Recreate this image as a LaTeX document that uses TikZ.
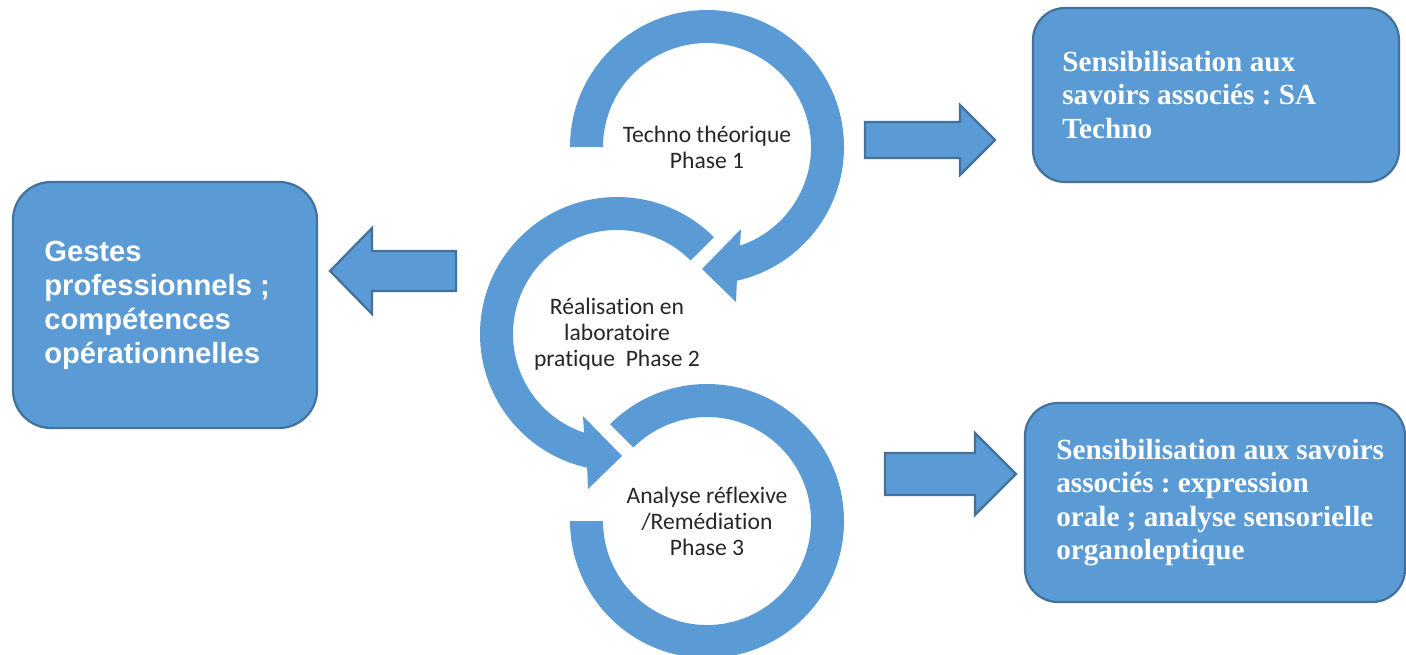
\documentclass[tikz,border=0pt]{standalone}
\usepackage{fontspec}
\setmainfont{Carlito}[RawFeature={-liga;-clig;-calt;-dlig}]
\newfontfamily\arialfont{Liberation Sans}
\newfontfamily\timesfont{Liberation Serif}
\usepackage{tikz}
\usetikzlibrary{positioning}
\frenchspacing
\definecolor{ringblue}{HTML}{5B9BD5}
\definecolor{edgeblue}{HTML}{41719C}
\tikzstyle{PhaseText}=[align=center, text=black!85, inner sep=0pt, font=\fontsize{11.8}{13}\selectfont]
\tikzstyle{Ring}=[fill=ringblue, draw=none]
\tikzstyle{BlockArrow}=[fill=ringblue, draw=edgeblue, line width=1.1pt]
\tikzstyle{InfoBox}=[rectangle, fill=ringblue, draw=edgeblue, line width=1.1pt]
\tikzstyle{SerifText}=[align=left, text=white, inner sep=0pt, font=\timesfont\bfseries\fontsize{14.6}{16.8}\selectfont]
\tikzstyle{SansText}=[align=left, text=white, inner sep=0pt, font=\arialfont\bfseries\fontsize{14.6}{17}\selectfont]

\begin{document}
\begin{tikzpicture}[x=0.5pt, y=0.5pt]
      \useasboundingbox (0,0) rectangle (1406,-654);
      \clip (0,0) rectangle (1406,-654);
      \node[PhaseText] (p1) at (707,-147) {Techno théorique\\Phase 1};
      \node[PhaseText] (p2) at (617,-334) {Réalisation en\\laboratoire\\pratique~~Phase 2};
      \node[PhaseText] (p3) at (707,-521) {Analyse réflexive\\/Remédiation\\Phase 3};
      \begin{scope}[shift={(p1.center)}]
        \fill[Ring] (180:137) arc[start angle=180, end angle=-77.4, radius=137]
          -- (29,-155) -- (-5,-122) -- (34,-82) -- (-71.5:104)
          arc[start angle=-71.5, end angle=180, radius=104] -- cycle;
      \end{scope}
      \begin{scope}[shift={(p2.center)}, xscale=-1]
        \fill[Ring] (135:137) arc[start angle=135, end angle=-77.4, radius=137]
          -- (29,-155) -- (-5,-122) -- (34,-82) -- (-71.5:104)
          arc[start angle=-71.5, end angle=135, radius=104] -- cycle;
      \end{scope}
      \begin{scope}[shift={(p3.center)}]
        \fill[Ring] (135:137) arc[start angle=135, end angle=-180, radius=137]
          -- (-180:104) arc[start angle=-180, end angle=135, radius=104] -- cycle;
      \end{scope}
      \node[InfoBox, rounded corners=16pt, minimum width=183pt, minimum height=87pt] (sa) at (1216,-95) {};
      \node[SerifText, anchor=west] (saText) at ([xshift=15pt]sa.west) {Sensibilisation aux\\savoirs associés : SA\\Techno};
      \node[InfoBox, rounded corners=16.5pt, minimum width=190pt, minimum height=99.5pt] (oral) at (1215,-502.5) {};
      \node[SerifText, anchor=west] (oralText) at ([xshift=16pt]oral.west) {Sensibilisation aux savoirs\\associés : expression\\orale ; analyse sensorielle\\organoleptique};
      \node[InfoBox, rounded corners=19pt, minimum width=152pt, minimum height=123pt] (gestes) at (165,-305) {};
      \node[SansText, anchor=west] (gestesText) at ([xshift=16pt]gestes.west) {Gestes\\professionnels ;\\compétences\\opérationnelles};
      \draw[BlockArrow] (865,-122) -- (960,-122) -- (960,-105) -- (995,-140) -- (960,-175) -- (960,-158) -- (865,-158) -- cycle;
      \draw[BlockArrow] (885,-453) -- (975,-453) -- (975,-433) -- (1016,-474) -- (975,-515) -- (975,-495) -- (885,-495) -- cycle;
      \draw[BlockArrow] (456,-251) -- (372,-251) -- (372,-228) -- (330,-271) -- (372,-314) -- (372,-291) -- (456,-291) -- cycle;
    \end{tikzpicture}
\end{document}
